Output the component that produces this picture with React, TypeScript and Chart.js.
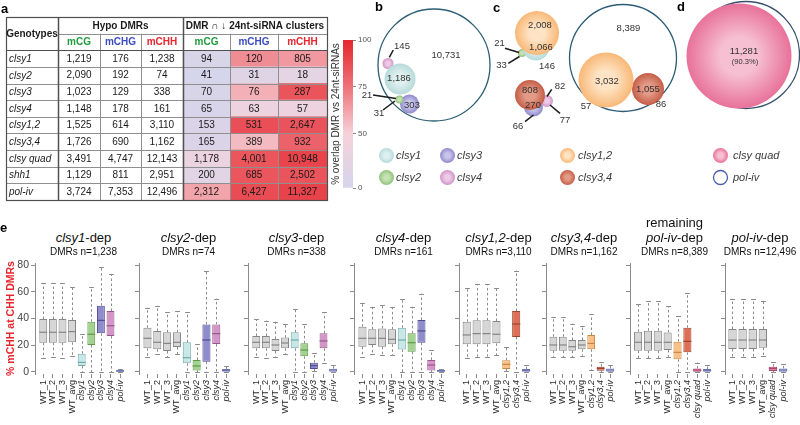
import React, { useEffect, useRef } from 'react';
import { Chart, registerables } from 'chart.js';

Chart.register(...registerables);

const FONT = 'Arial, "Liberation Sans", Helvetica, sans-serif';
Chart.defaults.font.family = FONT;
Chart.defaults.color = '#333';

// ---------------- Panel a : table + heat map ----------------
const GENOTYPES = ['clsy1', 'clsy2', 'clsy3', 'clsy4', 'clsy1,2', 'clsy3,4', 'clsy quad', 'shh1', 'pol-iv'];
const HYPO_CG = [1219, 2090, 1023, 1148, 1525, 1726, 3491, 1129, 3724];
const HYPO_CHG = [176, 192, 129, 178, 614, 690, 4747, 811, 7353];
const HYPO_CHH = [1238, 74, 338, 161, 3110, 1162, 12143, 2951, 12496];
const OVL_CG = [94, 41, 70, 65, 153, 165, 1178, 200, 2312];
const OVL_CHG = [120, 31, 76, 63, 531, 389, 4001, 685, 6427];
const OVL_CHH = [805, 18, 287, 57, 2647, 932, 10948, 2502, 11327];
const CONTEXTS = ['mCG', 'mCHG', 'mCHH'];
const COLORBAR_TICKS = [0, 50, 75, 100];

// ---------------- Panels b-d : Venn diagrams ----------------
const CIRCLES_POLIV = [{ x: 434, y: 65, r: 56 }, { x: 623, y: 58, r: 53.5 }, { x: 746, y: 55, r: 53.5 }, { x: 720.5, y: 177.5, r: 7 }];
const CIRCLES_CLSY1 = [{ x: 400, y: 79, r: 15.5 }, { x: 536, y: 47, r: 13.5 }, { x: 386.5, y: 155.5, r: 7.5 }];
const CIRCLES_CLSY2 = [{ x: 399.5, y: 99.5, r: 4 }, { x: 522, y: 53, r: 4 }, { x: 386.5, y: 177.5, r: 7.5 }];
const CIRCLES_CLSY3 = [{ x: 409.5, y: 104, r: 9.5 }, { x: 533.5, y: 107, r: 9.5 }, { x: 447.5, y: 155.5, r: 7.5 }];
const CIRCLES_CLSY4 = [{ x: 388, y: 63.5, r: 5.5 }, { x: 547, y: 101, r: 6 }, { x: 447.5, y: 177.5, r: 7.5 }];
const CIRCLES_CLSY12 = [{ x: 537, y: 33, r: 22 }, { x: 606, y: 80, r: 27.5 }, { x: 567.5, y: 155.5, r: 7.5 }];
const CIRCLES_CLSY34 = [{ x: 530, y: 95, r: 15 }, { x: 648, y: 89, r: 16 }, { x: 567.5, y: 177.5, r: 7.5 }];
const CIRCLES_QUAD = [{ x: 739, y: 56, r: 52.5 }, { x: 720.5, y: 155.5, r: 7.5 }];
const VENN_COUNTS = ['145', '10,731', '1,186', '303', '21', '31', '2,008', '1,066', '146', '21', '33', '808', '270', '82', '77', '66', '8,389', '3,032', '1,055', '86', '57', '11,281'];
const VENN_COUNT_POS = [[402, 46], [446, 55], [399, 78], [412, 105], [367, 95], [379, 113], [540, 25], [541, 47], [547, 66.5], [499.5, 43], [501.5, 65], [530, 90], [533, 105], [560, 86], [565, 120], [518, 126.5], [628.5, 28.5], [607, 81.5], [648, 89], [661, 104], [586, 106.5], [744, 51]];
const VENN_PERCENT = '(90.3%)';
const VENN_LEADERS = [[393.3, 50, 389.3, 57.3], [373, 95, 396, 98.5], [383, 110, 395, 101], [505, 48.3, 519, 52.5], [508.3, 63.3, 519.5, 56.5], [551.7, 89.3, 547, 96.5], [550, 105, 560, 113.3], [525, 121.7, 533.5, 115]];
const LEGEND_NAMES = ['clsy1', 'clsy2', 'clsy3', 'clsy4', 'clsy1,2', 'clsy3,4', 'clsy quad', 'pol-iv'];
const LEGEND_POS = [[396, 155.5], [396, 177.5], [457, 155.5], [457, 177.5], [578, 155.5], [578, 177.5], [733, 155.5], [733, 177.5]];

// ---------------- Panel e : box plots [min, q1, median, q3, max] ----------------
const P1_LABELS = ['WT_1', 'WT_2', 'WT_3', 'WT_avg', 'clsy1', 'clsy2', 'clsy3', 'clsy4', 'pol-iv'];
const P1_STATS = [[10.2, 21.9, 29.7, 39.6, 66.3], [11.5, 21.9, 29.7, 39.6, 66.3], [10.7, 21.9, 29.7, 39.6, 66.3], [12.2, 22.2, 30.2, 38.9, 63.3], [0.2, 4.5, 7.2, 13.7, 28.4], [0, 20.2, 28.2, 37.6, 63.8], [0, 28.9, 38.6, 49.6, 78.3], [0, 26.9, 34.6, 45.6, 73.3], [0, 0, 0.6, 1.6, 2.2]];
const P2_LABELS = ['WT_1', 'WT_2', 'WT_3', 'WT_avg', 'clsy1', 'clsy2', 'clsy3', 'clsy4', 'pol-iv'];
const P2_STATS = [[11.2, 17.7, 25.2, 33.1, 48.1], [13.2, 17, 22.2, 30.7, 49.6], [11.2, 15.7, 21.4, 29.7, 44.6], [13.2, 18.7, 22.2, 29.7, 45.6], [0, 6.5, 10.7, 22.2, 44.6], [0, 1.2, 4.5, 9, 20.9], [0, 7.7, 23.9, 35.6, 75.8], [0, 20.9, 28.7, 35.6, 54.8], [0, 0.2, 1.2, 2.2, 4.7]];
const P3_LABELS = ['WT_1', 'WT_2', 'WT_3', 'WT_avg', 'clsy1', 'clsy2', 'clsy3', 'clsy4', 'pol-iv'];
const P3_STATS = [[11.5, 17.7, 22.2, 26.9, 39.6], [10.2, 17.7, 22.2, 26.9, 38.4], [11.5, 15.7, 20.2, 24.7, 37.6], [13.2, 17.7, 21.7, 25.7, 35.9], [0, 17.7, 23.9, 29.7, 46.9], [0, 11.7, 16.4, 21.4, 35.6], [0.5, 2.2, 4.7, 7, 14], [6.5, 17.7, 23.2, 28.9, 44.6], [0, 0.2, 1.5, 2.5, 5.2]];
const P4_LABELS = ['WT_1', 'WT_2', 'WT_3', 'WT_avg', 'clsy1', 'clsy2', 'clsy3', 'clsy4', 'pol-iv'];
const P4_STATS = [[11.5, 18.9, 25.2, 33.9, 51.8], [13.2, 20.2, 25.2, 31.9, 48.8], [12.7, 18.9, 25.2, 32.6, 50.1], [12.7, 20.7, 24.4, 31.9, 48.3], [0, 16.9, 23.9, 33.1, 54.8], [0, 15.2, 21.9, 28.9, 48.8], [0, 21.9, 30.7, 38.9, 58.6], [0, 1.2, 5.2, 9, 16.4], [0, 0, 0.6, 1.4, 2.2]];
const P5_LABELS = ['WT_1', 'WT_2', 'WT_3', 'WT_avg', 'clsy1,2', 'clsy3,4', 'pol-iv'];
const P5_STATS = [[10.2, 20.7, 27.7, 37.6, 62.6], [11.5, 20.7, 28.7, 38.6, 65.5], [11.5, 20.7, 28.7, 38.6, 65.5], [12.7, 21.4, 28.2, 38.1, 62.6], [0.7, 2.2, 5.7, 8.7, 18.9], [0, 26.2, 35.9, 45.6, 75.8], [0, 0.2, 1.2, 2.2, 5]];
const P6_LABELS = ['WT_1', 'WT_2', 'WT_3', 'WT_avg', 'clsy1,2', 'clsy3,4', 'pol-iv'];
const P6_STATS = [[11.5, 15.9, 20.2, 26.4, 40.9], [11, 15.9, 20.2, 26.4, 40.9], [11, 15.9, 18.9, 23.9, 36.1], [12.2, 17, 20.2, 23.9, 34.6], [1.5, 17, 21.4, 27.7, 43.4], [0, 1, 2.7, 4, 7.7], [0, 0.2, 1.5, 2.7, 5.2]];
const P7_LABELS = ['WT_1', 'WT_2', 'WT_3', 'WT_avg', 'clsy1,2', 'clsy3,4', 'clsy quad', 'pol-iv'];
const P7_STATS = [[10.2, 15.9, 22.2, 30.1, 50.8], [10.2, 15.9, 22.2, 30.9, 53.3], [10.2, 15.9, 22.2, 30.9, 53.3], [11.4, 16.4, 22.2, 29.6, 49.3], [0, 9.5, 14.7, 22.7, 41.9], [0, 14.7, 22.9, 33.1, 59.3], [0, 0.2, 1.5, 2.7, 7], [0, 0.2, 1.2, 2.2, 5.2]];
const P8_LABELS = ['WT_1', 'WT_2', 'WT_3', 'WT_avg', 'clsy quad', 'pol-iv'];
const P8_STATS = [[11.5, 17.2, 23.9, 32.1, 54.3], [11.5, 17.2, 23.9, 32.1, 54.3], [11.5, 17.2, 23.9, 32.1, 54.3], [12, 18.2, 23.9, 32.1, 53.3], [0, 0.7, 2.7, 4, 7.2], [0, 0.2, 1.5, 2.7, 5.7]];
const PANEL_GENES = ['clsy1', 'clsy2', 'clsy3', 'clsy4', 'clsy1,2', 'clsy3,4', 'pol-iv', 'pol-iv'];
const PANEL_N = ['1,238', '74', '338', '161', '3,110', '1,162', '8,389', '12,496'];
const Y_TICKS = [0, 20, 40, 60, 80];

// ---------------- layout & style constants ----------------
const COL_EDGES = [0, 52, 94, 135, 177, 224, 272, 321];
const CONTEXT_COLORS = ['#1f9a3c', '#3b4cc0', '#e8262d'];
const HEAT_STOPS: [number, number[]][] = [[0, [212, 213, 236]], [0.366, [246, 210, 217]], [0.683, [238, 114, 122]], [1, [229, 38, 45]]];
const PANEL_X = [[35, 132], [139, 238], [248, 345], [354, 453], [459, 538], [546, 622], [630, 719], [725, 795]];

function pctToPos(p: number) {
  return p <= 50 ? (p / 50) * 0.366 : 0.366 + ((p - 50) / 50) * 0.634;
}
function heatColor(pct: number) {
  const p = Math.max(0, Math.min(1, pctToPos(pct)));
  for (let i = 1; i < HEAT_STOPS.length; i++) {
    const [p0, c0] = HEAT_STOPS[i - 1];
    const [p1, c1] = HEAT_STOPS[i];
    if (p <= p1) {
      const t = (p - p0) / (p1 - p0);
      const c = c0.map((v, k) => Math.round(v + (c1[k] - v) * t));
      return `rgb(${c[0]},${c[1]},${c[2]})`;
    }
  }
  return 'rgb(229,38,45)';
}

function boxColor(label: string) {
  if (label.startsWith('WT')) return { fill: '#d6d6d6', stroke: '#858585' };
  const m: any = {
    'clsy1': { fill: '#c8e8e8', stroke: '#72a9a9' },
    'clsy2': { fill: '#a3d18e', stroke: '#5e994b' },
    'clsy3': { fill: '#8f8ccb', stroke: '#4f4b92' },
    'clsy4': { fill: '#d495c7', stroke: '#985690' },
    'pol-iv': { fill: '#adb3e0', stroke: '#6d75b8' },
    'clsy1,2': { fill: '#fcc086', stroke: '#c58945' },
    'clsy3,4': { fill: '#de6f55', stroke: '#9c4532' },
    'clsy quad': { fill: '#ea7ba0', stroke: '#a9466c' },
  };
  return m[label];
}

function ChartCanvas({ left, top, width, height, make }: any) {
  const ref = useRef<HTMLCanvasElement>(null);
  useEffect(() => {
    const chart = make(ref.current);
    return () => chart.destroy();
  }, []);
  return <canvas ref={ref} width={width} height={height} style={{ position: 'absolute', left, top, width, height }} />;
}

// ---------------- table chart ----------------
function makeTable(canvas: HTMLCanvasElement) {
  const rows = ['h1', 'h2', ...GENOTYPES];
  const hypo = [HYPO_CG, HYPO_CHG, HYPO_CHH];
  const ovl = [OVL_CG, OVL_CHG, OVL_CHH];
  const datasets = [0, 1, 2].map((k) => ({
    data: rows.map((_, r) => (r < 2 ? null : [COL_EDGES[4 + k], COL_EDGES[5 + k]])),
    backgroundColor: rows.map((_, r) => (r < 2 ? 'rgba(0,0,0,0)' : heatColor((ovl[k][r - 2] / hypo[k][r - 2]) * 100))),
    borderWidth: 0,
    barPercentage: 1,
    categoryPercentage: 1,
    grouped: false,
  }));
  const plugin = {
    id: 'tableDraw',
    afterDatasetsDraw(chart: any) {
      const c = chart.ctx;
      const xs = chart.scales.x;
      const ys = chart.scales.y;
      const X = (i: number) => xs.getPixelForValue(COL_EDGES[i]);
      const step = ys.getPixelForValue(1) - ys.getPixelForValue(0);
      const rowTop = (r: number) => ys.getPixelForValue(r) - step / 2;
      const rowMid = (r: number) => ys.getPixelForValue(r);
      const nR = rows.length;
      const L = X(0), R = X(7), T = rowTop(0), B = rowTop(nR);
      const crisp = (v: number) => Math.round(v) + 0.5;
      const line = (x1: number, y1: number, x2: number, y2: number, col: string, w: number) => {
        c.save();
        c.strokeStyle = col;
        c.lineWidth = w;
        c.beginPath();
        c.moveTo(x1, y1);
        c.lineTo(x2, y2);
        c.stroke();
        c.restore();
      };
      const light = '#8f8f8f', dark = '#505050';
      for (let r = 3; r < nR; r++) line(L, crisp(rowTop(r)), R, crisp(rowTop(r)), light, 1);
      line(X(1), crisp(rowTop(1)), R, crisp(rowTop(1)), light, 1);
      [2, 3, 5, 6].forEach((i) => line(crisp(X(i)), rowTop(1), crisp(X(i)), B, light, 1));
      line(L, crisp(rowTop(2)), R, crisp(rowTop(2)), dark, 1.2);
      line(crisp(X(1)), T, crisp(X(1)), B, dark, 1.5);
      line(crisp(X(4)), T, crisp(X(4)), B, dark, 1.5);
      c.save();
      c.strokeStyle = dark;
      c.lineWidth = 1.2;
      c.strokeRect(crisp(L), crisp(T), Math.round(R - L), Math.round(B - T));
      c.restore();

      c.save();
      c.textBaseline = 'middle';
      c.textAlign = 'center';
      c.fillStyle = '#1a1a1a';
      c.font = `bold 10px ${FONT}`;
      c.fillText('Genotypes', (X(0) + X(1)) / 2, (T + rowTop(2)) / 2 + 0.5);
      c.fillText('Hypo DMRs', (X(1) + X(4)) / 2, rowMid(0) + 0.5);
      c.fillText('DMR \u2229 \u2193 24nt-siRNA clusters', (X(4) + X(7)) / 2, rowMid(0) + 0.5);
      for (let g = 0; g < 2; g++) {
        CONTEXTS.forEach((t, k) => {
          c.fillStyle = CONTEXT_COLORS[k];
          c.fillText(t, (X(1 + g * 3 + k) + X(2 + g * 3 + k)) / 2, rowMid(1) + 0.5);
        });
      }
      c.fillStyle = '#1a1a1a';
      GENOTYPES.forEach((name, i) => {
        const y = rowMid(i + 2) + 0.5;
        c.textAlign = 'left';
        c.font = `italic 10px ${FONT}`;
        c.fillText(name, X(0) + 3, y);
        c.textAlign = 'center';
        c.font = `10px ${FONT}`;
        [hypo, ovl].forEach((arr, g) => {
          arr.forEach((col, k) => {
            c.fillText(col[i].toLocaleString('en-US'), (X(1 + g * 3 + k) + X(2 + g * 3 + k)) / 2, y);
          });
        });
      });
      c.restore();
    },
  };
  return new Chart(canvas, {
    type: 'bar',
    data: { labels: rows, datasets: datasets as any },
    options: {
      indexAxis: 'y',
      responsive: false,
      animation: false,
      events: [],
      layout: { autoPadding: false, padding: { left: 6, top: 17, right: 3, bottom: 5 } },
      plugins: { legend: { display: false }, tooltip: { enabled: false } },
      scales: {
        x: { type: 'linear', min: 0, max: COL_EDGES[7], display: false },
        y: { type: 'category', display: false, offset: true },
      },
    } as any,
    plugins: [plugin],
  });
}

// ---------------- colour bar ----------------
function makeColorBar(canvas: HTMLCanvasElement) {
  return new Chart(canvas, {
    type: 'bar',
    data: {
      labels: ['bar'],
      datasets: [{
        data: [[0, 1]],
        backgroundColor: (ctx: any) => {
          const ch = ctx.chart;
          const ca = ch.chartArea;
          if (!ca) return '#ddd';
          const g = ch.ctx.createLinearGradient(0, ca.bottom, 0, ca.top);
          HEAT_STOPS.forEach(([p, col]) => g.addColorStop(p, `rgb(${col[0]},${col[1]},${col[2]})`));
          return g;
        },
        borderWidth: 0,
        barPercentage: 1,
        categoryPercentage: 1,
      }] as any,
    },
    options: {
      responsive: false,
      animation: false,
      events: [],
      layout: { autoPadding: false, padding: { top: 10, bottom: 14, left: 0, right: 0 } },
      plugins: { legend: { display: false }, tooltip: { enabled: false } },
      scales: {
        x: { display: false },
        y: {
          position: 'right', min: 0, max: 1,
          afterBuildTicks: (s: any) => { s.ticks = COLORBAR_TICKS.map((v) => ({ value: pctToPos(v) })); },
          afterFit: (s: any) => { s.width = 22; },
          ticks: { callback: (_v: any, i: number) => String(COLORBAR_TICKS[i]), font: { size: 8, family: FONT }, color: '#555', padding: 2 },
          grid: { drawOnChartArea: false, tickLength: 3, color: '#888' },
          border: { display: false },
        },
        yTitle: {
          type: 'linear', position: 'left', min: 0, max: 1,
          ticks: { display: false }, grid: { display: false }, border: { display: false },
          afterFit: (s: any) => { s.width = 15; },
          title: { display: true, text: '% overlap DMR vs 24nt-siRNAs', font: { size: 10, family: FONT }, color: '#333', padding: { top: 2, bottom: 0 } },
        },
      },
    } as any,
  });
}

// ---------------- Venn diagrams ----------------
function makeVenn(canvas: HTMLCanvasElement) {
  const styles = [
    { pts: CIRCLES_QUAD, inner: '#f6c0d2', outer: '#e8719a' },
    { pts: CIRCLES_CLSY12, inner: '#fee3c4', outer: '#f8b877' },
    { pts: CIRCLES_CLSY34, inner: '#e39a86', outer: '#c45d47' },
    { pts: CIRCLES_CLSY1, inner: '#dff0f0', outer: '#b7dada' },
    { pts: CIRCLES_CLSY2, inner: '#c6e2b4', outer: '#92c27c' },
    { pts: CIRCLES_CLSY3, inner: '#c8c5ea', outer: '#8f8acb' },
    { pts: CIRCLES_CLSY4, inner: '#eccbe6', outer: '#d294c8' },
  ];
  const filled = styles.map((s) => ({
    data: s.pts,
    borderWidth: 0,
    clip: false,
    backgroundColor: (ctx: any) => {
      const ch = ctx.chart;
      const raw = ctx.raw;
      if (!raw || !ch.chartArea) return s.outer;
      const x = ch.scales.x.getPixelForValue(raw.x);
      const y = ch.scales.y.getPixelForValue(raw.y);
      const g = ch.ctx.createRadialGradient(x, y, 0, x, y, raw.r);
      g.addColorStop(0, s.inner);
      g.addColorStop(0.35, s.inner);
      g.addColorStop(1, s.outer);
      return g;
    },
  }));
  const outline = {
    data: CIRCLES_POLIV,
    backgroundColor: 'rgba(0,0,0,0)',
    borderColor: ['#2c5d74', '#2c5d74', '#39506f', '#4c5cb2'],
    borderWidth: 1.3,
    clip: false,
  };
  const plugin = {
    id: 'vennText',
    afterDatasetsDraw(chart: any) {
      const c = chart.ctx;
      const X = (v: number) => chart.scales.x.getPixelForValue(v);
      const Y = (v: number) => chart.scales.y.getPixelForValue(v);
      c.save();
      c.strokeStyle = '#1a1a1a';
      c.lineWidth = 1.5;
      VENN_LEADERS.forEach(([x1, y1, x2, y2]) => {
        c.beginPath();
        c.moveTo(X(x1), Y(y1));
        c.lineTo(X(x2), Y(y2));
        c.stroke();
      });
      c.textAlign = 'center';
      c.textBaseline = 'middle';
      c.fillStyle = '#333';
      c.font = `9.5px ${FONT}`;
      VENN_COUNTS.forEach((t, i) => c.fillText(t, X(VENN_COUNT_POS[i][0]), Y(VENN_COUNT_POS[i][1])));
      c.font = `7.5px ${FONT}`;
      c.fillText(VENN_PERCENT, X(745), Y(61.5));
      c.textAlign = 'left';
      c.fillStyle = '#3a3a3a';
      c.font = `italic 11px ${FONT}`;
      LEGEND_NAMES.forEach((t, i) => c.fillText(t, X(LEGEND_POS[i][0]), Y(LEGEND_POS[i][1])));
      c.restore();
    },
  };
  return new Chart(canvas, {
    type: 'bubble',
    data: { datasets: [...filled, outline] as any },
    options: {
      responsive: false,
      animation: false,
      events: [],
      layout: { autoPadding: false, padding: 0 },
      plugins: { legend: { display: false }, tooltip: { enabled: false } },
      scales: {
        x: { type: 'linear', min: 355, max: 800, display: false },
        y: { type: 'linear', min: 0, max: 200, reverse: true, display: false },
      },
    } as any,
    plugins: [plugin],
  });
}

// ---------------- box plots ----------------
function makeBox(canvas: HTMLCanvasElement, labels: string[], stats: number[][], axisW: number, first: boolean) {
  const n = labels.length;
  const pad = 0.5 + 0.04 * n;
  const colors = labels.map(boxColor);
  const italic = (l: string) => !l.startsWith('WT');
  const plugin = {
    id: 'whiskers',
    beforeDatasetsDraw(chart: any) {
      const c = chart.ctx;
      const ys = chart.scales.y;
      const meta = chart.getDatasetMeta(0);
      c.save();
      stats.forEach((s, i) => {
        const el = meta.data[i];
        const x = Math.round(el.x) + 0.5;
        const w = el.width;
        const pMin = ys.getPixelForValue(s[0]);
        const pQ1 = ys.getPixelForValue(s[1]);
        const pQ3 = ys.getPixelForValue(s[3]);
        const pMax = ys.getPixelForValue(s[4]);
        c.strokeStyle = '#8a8a8a';
        c.lineWidth = 1;
        c.setLineDash([2.5, 2.5]);
        c.beginPath();
        c.moveTo(x, pQ3);
        c.lineTo(x, pMax);
        c.moveTo(x, pQ1);
        c.lineTo(x, pMin);
        c.stroke();
        c.setLineDash([]);
        c.beginPath();
        c.moveTo(x - w * 0.3, Math.round(pMax) + 0.5);
        c.lineTo(x + w * 0.3, Math.round(pMax) + 0.5);
        c.moveTo(x - w * 0.3, Math.round(pMin) + 0.5);
        c.lineTo(x + w * 0.3, Math.round(pMin) + 0.5);
        c.stroke();
      });
      c.restore();
    },
    afterDatasetsDraw(chart: any) {
      const c = chart.ctx;
      const ys = chart.scales.y;
      const meta = chart.getDatasetMeta(0);
      c.save();
      stats.forEach((s, i) => {
        const el = meta.data[i];
        const y = ys.getPixelForValue(s[2]);
        c.strokeStyle = colors[i].stroke;
        c.lineWidth = 1.2;
        c.beginPath();
        c.moveTo(el.x - el.width / 2, y);
        c.lineTo(el.x + el.width / 2, y);
        c.stroke();
      });
      c.restore();
    },
  };
  return new Chart(canvas, {
    type: 'bar',
    data: {
      datasets: [{
        data: stats.map((s, i) => ({ x: i + 1, y: [s[1], s[3]] })),
        backgroundColor: colors.map((c) => c.fill),
        borderColor: colors.map((c) => c.stroke),
        borderWidth: 1,
        borderSkipped: false,
        barPercentage: 0.82,
        categoryPercentage: 1,
      }] as any,
    },
    options: {
      responsive: false,
      animation: false,
      events: [],
      layout: { autoPadding: false, padding: { top: 13, right: 1, left: 0, bottom: 0 } },
      plugins: { legend: { display: false }, tooltip: { enabled: false } },
      scales: {
        x: {
          type: 'linear', min: 1 - pad, max: n + pad, offset: false,
          afterBuildTicks: (s: any) => { s.ticks = labels.map((_, i) => ({ value: i + 1 })); },
          afterFit: (s: any) => { s.height = 51; },
          ticks: {
            autoSkip: false, minRotation: 90, maxRotation: 90, padding: 2, color: '#2a2a2a',
            callback: (_v: any, i: number) => labels[i],
            font: (ctx: any) => ({ family: FONT, size: 9, style: italic(labels[ctx.index] || 'WT') ? 'italic' : 'normal' }),
          },
          grid: { drawOnChartArea: false, tickLength: 4, color: '#8c8c8c', offset: false },
          border: { display: false },
        },
        y: {
          min: -1.5, max: 81.5,
          afterBuildTicks: (s: any) => { s.ticks = Y_TICKS.map((v) => ({ value: v })); },
          afterFit: (s: any) => { s.width = axisW; },
          ticks: { display: first, font: { family: FONT, size: 10.5 }, color: '#444', padding: 2 },
          grid: { drawOnChartArea: false, tickLength: 4, color: '#8c8c8c' },
          border: { display: true, color: '#8c8c8c' },
          title: {
            display: first, text: '% mCHH at CHH DMRs', color: '#e8262d',
            font: { family: FONT, size: 10.5, weight: 'bold' }, padding: { top: 5, bottom: 0 },
          },
        },
      },
    } as any,
    plugins: [plugin],
  });
}

const BOX_LABELS = [P1_LABELS, P2_LABELS, P3_LABELS, P4_LABELS, P5_LABELS, P6_LABELS, P7_LABELS, P8_LABELS];
const BOX_STATS = [P1_STATS, P2_STATS, P3_STATS, P4_STATS, P5_STATS, P6_STATS, P7_STATS, P8_STATS];

const letter = (t: string, left: number, top: number) => (
  <div style={{ position: 'absolute', left, top, font: `bold 13px ${FONT}`, lineHeight: '15px', color: '#000' }}>{t}</div>
);

export default function App() {
  return (
    <div style={{ position: 'absolute', left: 0, top: 0, width: 800, height: 425, background: '#fff', overflow: 'hidden', fontFamily: FONT }}>
      <ChartCanvas left={0} top={0} width={330} height={205} make={makeTable} />
      <ChartCanvas left={328} top={30} width={47} height={172} make={makeColorBar} />
      <ChartCanvas left={355} top={0} width={445} height={200} make={makeVenn} />
      {BOX_LABELS.map((labels, i) => {
        const [l, r] = PANEL_X[i];
        const axisW = i === 0 ? 35 : 6;
        const left = l - axisW;
        return (
          <ChartCanvas key={i} left={left} top={250} width={r - left + 1} height={175}
            make={(cv: HTMLCanvasElement) => makeBox(cv, labels, BOX_STATS[i], axisW, i === 0)} />
        );
      })}
      {PANEL_X.map(([l, r], i) => {
        const cx = (l + r) / 2;
        return (
          <React.Fragment key={'t' + i}>
            {i === 6 && (
              <div style={{ position: 'absolute', left: cx - 70, width: 140, top: 215, textAlign: 'center', fontSize: 13, lineHeight: '16px', color: '#111' }}>remaining</div>
            )}
            <div style={{ position: 'absolute', left: cx - 70, width: 140, top: 229.5, textAlign: 'center', fontSize: 13, lineHeight: '16px', color: '#111' }}>
              <span style={{ fontStyle: 'italic' }}>{PANEL_GENES[i]}</span>-dep
            </div>
            <div style={{ position: 'absolute', left: cx - 70, width: 140, top: 245.5, textAlign: 'center', fontSize: 10, lineHeight: '12px', color: '#111' }}>
              DMRs n={PANEL_N[i]}
            </div>
          </React.Fragment>
        );
      })}
      {letter('a', 1, 1)}
      {letter('b', 375, -1)}
      {letter('c', 493, 0)}
      {letter('d', 677, -1)}
      {letter('e', 0, 220)}
    </div>
  );
}
